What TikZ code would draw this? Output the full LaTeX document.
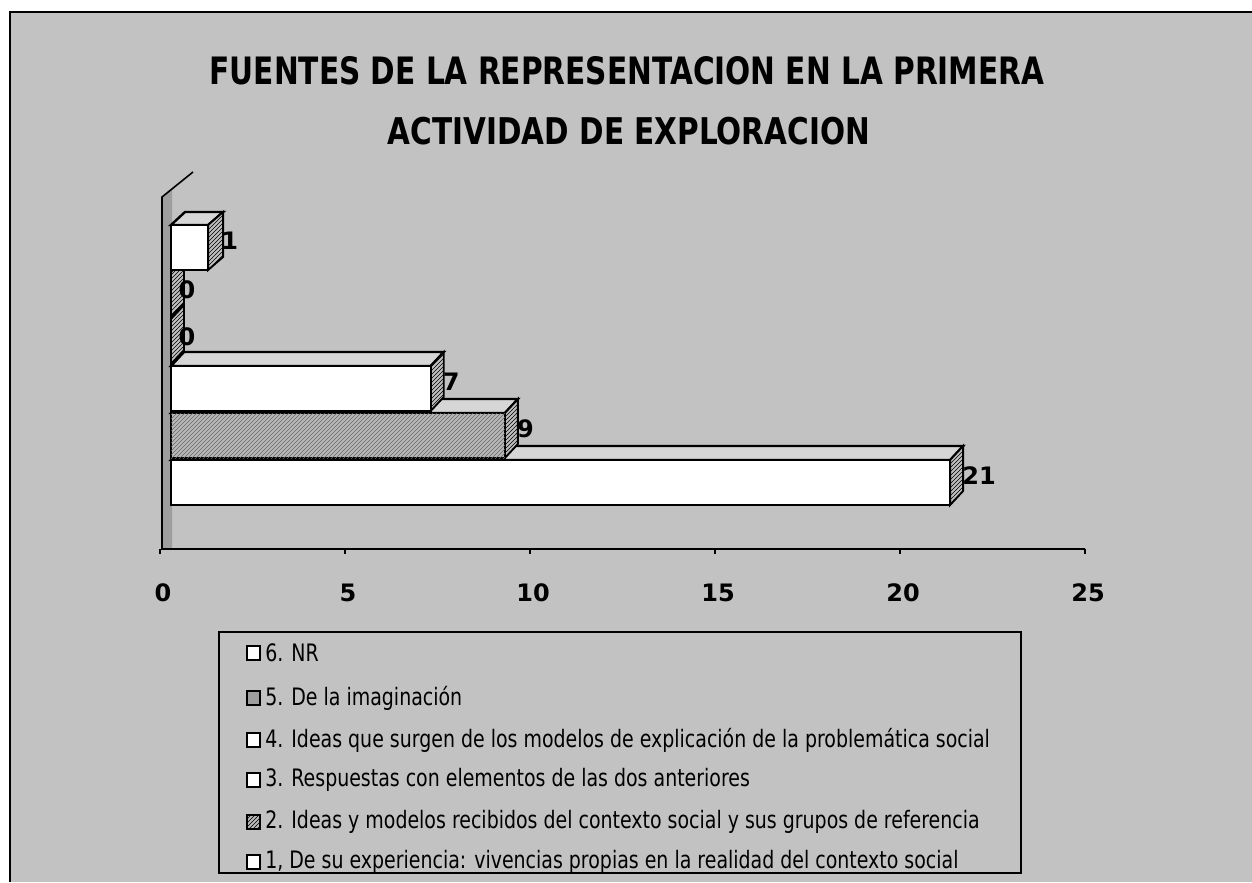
\documentclass[tikz,border=0pt]{standalone}
\usepackage{fontspec}
\usepackage{graphicx}
\setmainfont{DejaVu Sans}
\usetikzlibrary{patterns}
\definecolor{bgdots}{gray}{0.76}
\definecolor{topdots}{gray}{0.84}
\definecolor{walldots}{gray}{0.62}
\newcommand\legsx{0.79}
\begin{document}
\begin{tikzpicture}[x=0.75pt,y=-0.75pt,
  frontwhite/.style={fill=white,draw=black,line width=1.8pt},
  fronthatch/.style={fill=gray!55,draw=black,line width=1.8pt,postaction={pattern=north east lines,pattern color=black!60}},
  topface/.style={fill=topdots,draw=black,line width=1.8pt},
  sideface/.style={fill=gray!50,draw=black,line width=1.4pt,postaction={pattern=north east lines}},
  vlabel/.style={font=\fontsize{18}{18}\selectfont\bfseries,inner sep=0pt},
  ticklabel/.style={font=\fontsize{18}{18}\selectfont\bfseries,inner sep=0pt},
  legtext/.style={font=\fontsize{18}{18}\selectfont,anchor=west,inner sep=0pt},
  swatch/.style={draw=black,line width=1.4pt,fill=white},
  swatchdots/.style={draw=black,line width=1.4pt,fill=walldots},
  swatchhatch/.style={draw=black,line width=1.4pt,fill=gray!55,postaction={pattern=north east lines}},
  axisline/.style={draw=black,line width=1.2pt}
]
\useasboundingbox (0,0) rectangle (1252,882);
% background
\fill[bgdots] (10,12) rectangle (1252,882);
\draw[line width=1pt] (10,882) -- (10,12) -- (1252,12);
% title
\node[inner sep=0pt] (title1) at (627,71) {\resizebox{626pt}{21pt}{\bfseries FUENTES DE LA REPRESENTACION EN LA PRIMERA}};
\node[inner sep=0pt] (title2) at (629,131) {\resizebox{361.5pt}{20.5pt}{\bfseries ACTIVIDAD DE EXPLORACION}};
% wall
\fill[walldots] (162,197) -- (172,189) -- (172,549) -- (162,549) -- cycle;
\draw[axisline] (193,172) -- (162,197) -- (162,549) -- (1085,549);
\foreach \k in {0,...,5}{
  \draw[axisline] (160+185*\k,549) -- (160+185*\k,554);
}
\foreach \k/\lab in {0/0,1/5,2/10,3/15,4/20,5/25}{
  \node[ticklabel] (tick\k) at (163+185*\k,593) {\lab};
}
% bars
\foreach \i/\v/\fs in {1/21/frontwhite,2/9/fronthatch,3/7/frontwhite}{
  \pgfmathsetmacro\c{482.5-47*(\i-1)}
  \pgfmathsetmacro\R{171+37.1*\v}
  \pgfmathsetmacro\t{\c-22.5}
  \pgfmathsetmacro\b{\c+22.5}
  \draw[topface] (171,\t) -- (184,\t-14) -- (\R+13,\t-14) -- (\R,\t) -- cycle;
  \draw[sideface] (\R,\t) -- (\R+13,\t-14) -- (\R+13,\b-14) -- (\R,\b) -- cycle;
  \draw[\fs] (171,\t) rectangle (\R,\b);
  \node[vlabel,anchor=west] (v\i) at (\R+12,\c-7) {\v};
}
\foreach \i in {4,5}{
  \pgfmathsetmacro\c{482.5-47*(\i-1)}
  \pgfmathsetmacro\t{\c-22.5}
  \pgfmathsetmacro\b{\c+22.5}
  \draw[sideface] (171,\t) -- (184,\t-14) -- (184,\b-14) -- (171,\b) -- cycle;
  \node[vlabel] (v\i) at (187,\c-5) {0};
}
\foreach \i/\v in {6/1}{
  \pgfmathsetmacro\c{482.5-47*(\i-1)}
  \pgfmathsetmacro\R{171+37.1*\v}
  \pgfmathsetmacro\t{\c-22.5}
  \pgfmathsetmacro\b{\c+22.5}
  \draw[topface] (171,\t) -- (185,\t-13) -- (\R+15,\t-13) -- (\R,\t) -- cycle;
  \draw[sideface] (\R,\t) -- (\R+15,\t-13) -- (\R+15,\b-13) -- (\R,\b) -- cycle;
  \draw[frontwhite] (171,\t) rectangle (\R,\b);
  \node[vlabel,anchor=west] (v\i) at (\R+13,\c-7) {\v};
}
% legend
\draw[line width=1pt] (219,632) rectangle (1021,873);
\foreach \y/\sw/\txt [count=\n] in {
  653/swatch/{6. NR},
  698/swatchdots/{5. De la imaginación},
  740/swatch/{4. Ideas que surgen de los modelos de explicación de la problemática social},
  780/swatch/{3. Respuestas con elementos de las dos anteriores},
  822/swatchhatch/{2. Ideas y modelos recibidos del contexto social y sus grupos de referencia},
  862/swatch/{1, De su experiencia: vivencias propias en la realidad del contexto social}}{
  \draw[\sw] (247,\y-7) rectangle (260,\y+7);
  \node[legtext] (leg\n) at (265,\y) {\scalebox{\legsx}[1]{\txt}};
}
\end{tikzpicture}
\end{document}
